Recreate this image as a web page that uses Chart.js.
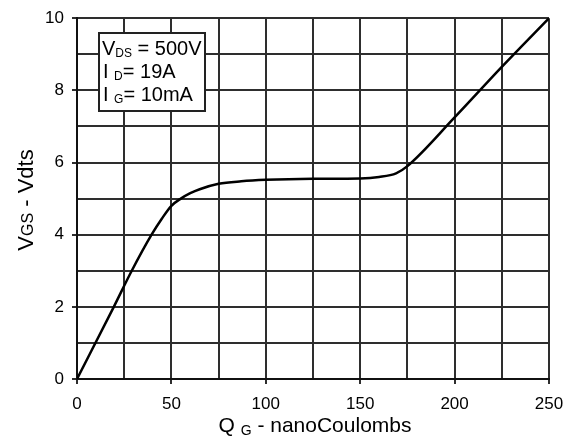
<!DOCTYPE html>
<html>
<head>
<meta charset="utf-8">
<script src="https://cdn.jsdelivr.net/npm/chart.js@4"></script>
<style>
    html, body { margin: 0; padding: 0; background: #fff; }
    #wrap { width: 574px; height: 443px; }
</style>
</head>
<body>
<div id="wrap"><canvas id="gateChart" width="574" height="443"></canvas></div>
<script>
// Gate charge curve
const qg  = [0, 19.5, 29, 39.5, 45, 50, 55, 60, 65, 75, 87, 100, 125, 150, 160, 169, 175, 200, 225, 250];
const vgs = [0, 2, 3, 4, 4.45, 4.8, 5.0, 5.15, 5.26, 5.41, 5.48, 5.52, 5.55, 5.56, 5.6, 5.7, 5.9, 7.25, 8.65, 10];

const xTicks = [0, 50, 100, 150, 200, 250];
const yTicks = [0, 2, 4, 6, 8, 10];

const FONT = '"Liberation Sans", Arial, sans-serif';
const gridColor = '#2e2e2e';

// draws text pieces, some of them subscripts
function drawPieces(ctx, x, y, pieces) {
    pieces.forEach(p => {
        ctx.font = p.size + 'px ' + FONT;
        ctx.fillText(p.text, x, y + (p.dy || 0));
        x += ctx.measureText(p.text).width;
    });
    return x;
}

function piecesWidth(ctx, pieces) {
    let w = 0;
    pieces.forEach(p => { ctx.font = p.size + 'px ' + FONT; w += ctx.measureText(p.text).width; });
    return w;
}

const annotations = {
    id: 'annotations',
    afterDraw(chart) {
        const ctx = chart.ctx;
        ctx.save();
        ctx.textBaseline = 'alphabetic';
        ctx.textAlign = 'left';

        // test conditions box
        ctx.fillStyle = '#fff';
        ctx.fillRect(99, 33, 106, 78);
        ctx.strokeStyle = '#222';
        ctx.lineWidth = 2;
        ctx.strokeRect(99, 33, 106, 78);
        ctx.fillStyle = '#000';
        drawPieces(ctx, 102, 55, [
            { text: 'V', size: 20 }, { text: 'DS', size: 12, dy: 2 }, { text: ' = 500V', size: 20 }
        ]);
        drawPieces(ctx, 103, 78, [
            { text: 'I ', size: 20 }, { text: 'D', size: 12, dy: 2 }, { text: '= 19A', size: 20 }
        ]);
        drawPieces(ctx, 103, 101, [
            { text: 'I ', size: 20 }, { text: 'G', size: 12, dy: 2 }, { text: '= 10mA', size: 20 }
        ]);

        // x title
        const xParts = [
            { text: 'Q ', size: 21 }, { text: 'G', size: 14, dy: 3 }, { text: ' - nanoCoulombs', size: 21 }
        ];
        drawPieces(ctx, 315 - piecesWidth(ctx, xParts) / 2, 432, xParts);

        // y title, rotated
        const yParts = [
            { text: 'V', size: 22 }, { text: 'GS', size: 16 }, { text: ' - Vdts', size: 22 }
        ];
        const w = piecesWidth(ctx, yParts);
        ctx.translate(33, 200);
        ctx.rotate(-Math.PI / 2);
        drawPieces(ctx, -w / 2, 0, yParts);
        ctx.restore();
    }
};

new Chart(document.getElementById('gateChart').getContext('2d'), {
    type: 'line',
    data: {
        datasets: [{
            data: qg.map((q, i) => ({ x: q, y: vgs[i] })),
            borderColor: '#000',
            borderWidth: 2.5,
            pointRadius: 0,
            fill: false,
            cubicInterpolationMode: 'monotone'
        }]
    },
    options: {
        responsive: false,
        animation: false,
        layout: { padding: { top: 15, right: 25, left: 0, bottom: 0 } },
        plugins: {
            legend: { display: false },
            tooltip: { enabled: false }
        },
        scales: {
            x: {
                type: 'linear',
                min: 0,
                max: 250,
                afterFit: scale => { scale.height = 64; },
                ticks: {
                    stepSize: 25,
                    padding: 10,
                    maxRotation: 0,
                    color: '#000',
                    font: { family: FONT, size: 17 },
                    callback: v => xTicks.includes(v) ? v : ''
                },
                grid: {
                    color: gridColor,
                    lineWidth: 2,
                    tickLength: 5,
                    tickColor: c => xTicks.includes(c.tick && c.tick.value) ? gridColor : 'rgba(0,0,0,0)'
                },
                border: { color: '#111', width: 2 }
            },
            y: {
                min: 0,
                max: 10,
                afterFit: scale => { scale.width = 77; },
                ticks: {
                    stepSize: 1,
                    padding: 8,
                    color: '#000',
                    font: { family: FONT, size: 17 },
                    callback: v => yTicks.includes(v) ? v : ''
                },
                grid: {
                    color: gridColor,
                    lineWidth: 2,
                    tickLength: 5,
                    tickColor: c => yTicks.includes(c.tick && c.tick.value) ? gridColor : 'rgba(0,0,0,0)'
                },
                border: { color: '#111', width: 2 }
            }
        }
    },
    plugins: [annotations]
});
</script>
</body>
</html>
